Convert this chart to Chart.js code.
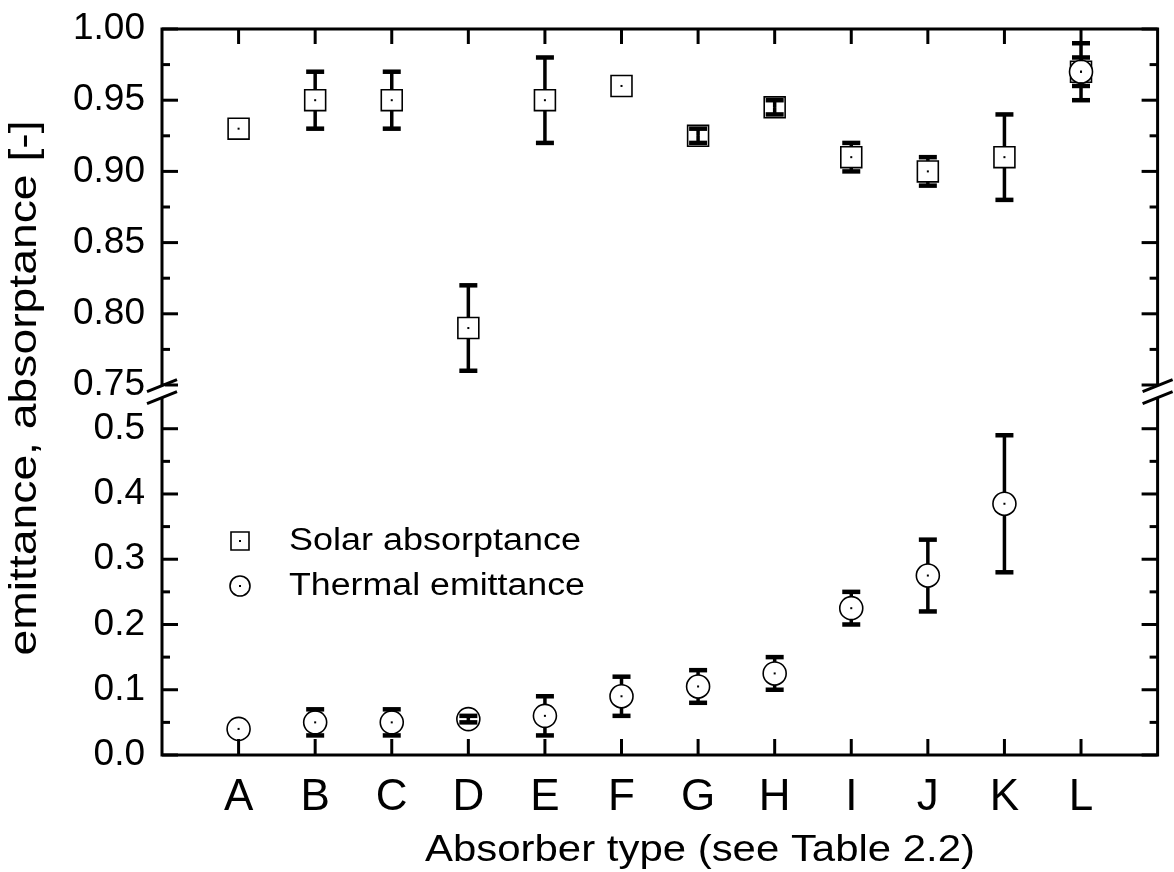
<!DOCTYPE html>
<html>
<head>
<meta charset="utf-8">
<title>Absorber emittance and absorptance</title>
<script src="https://cdn.jsdelivr.net/npm/chart.js@4.4.1/dist/chart.umd.min.js"></script>
<style>
  body { margin: 0; background: #fff; }
  canvas { display: block; }
</style>
</head>
<body>
<canvas id="chart" width="1174" height="872"></canvas>
<script>
// Data
const categories = ['A', 'B', 'C', 'D', 'E', 'F', 'G', 'H', 'I', 'J', 'K', 'L'];
const solarAbsorptance = [0.93, 0.95, 0.95, 0.79, 0.95, 0.96, 0.925, 0.945, 0.91, 0.90, 0.91, 0.97];
const solarError       = [0, 0.02, 0.02, 0.03, 0.03, 0, 0.005, 0.005, 0.01, 0.01, 0.03, 0.02];
const thermalEmittance = [0.04, 0.05, 0.05, 0.055, 0.06, 0.09, 0.105, 0.125, 0.225, 0.275, 0.385, 0.97];
const thermalError     = [0, 0.02, 0.02, 0.005, 0.03, 0.03, 0.025, 0.025, 0.025, 0.055, 0.105, 0.01];

// Axis ticks (broken y axis: lower part 0-0.5, upper part 0.75-1.00)
const lowerTicks = [0.0, 0.1, 0.2, 0.3, 0.4, 0.5];
const lowerMinor = [0.05, 0.15, 0.25, 0.35, 0.45];
const upperTicks = [0.75, 0.80, 0.85, 0.90, 0.95, 1.00];
const upperMinor = [0.775, 0.825, 0.875, 0.925, 0.975];
const BREAK = 0.75; // values at or above go to the upper segment

const FONT = "'Liberation Sans', Arial, sans-serif";

// split a series between the two axis segments
function toPoints(values, errors, upper) {
    return values
        .map((v, i) => ({ x: i + 1, y: v, err: errors[i] }))
        .filter(p => upper ? p.y >= BREAK : p.y < BREAK);
}

function markerSet(label, values, errors, upper, style) {
    return {
        label,
        data: toPoints(values, errors, upper),
        yAxisID: upper ? 'yTop' : 'yBot',
        pointStyle: style,
        pointRadius: style === 'rect' ? 14.8 : 11.5,
        pointHoverRadius: style === 'rect' ? 14.8 : 11.5,
        pointBorderWidth: 1.6,
        pointBorderColor: '#000',
        pointBackgroundColor: '#fff',
        order: style === 'rect' ? 1 : 0
    };
}

const datasets = [
    markerSet('Solar absorptance', solarAbsorptance, solarError, true, 'rect'),
    markerSet('Solar absorptance', solarAbsorptance, solarError, false, 'rect'),
    markerSet('Thermal emittance', thermalEmittance, thermalError, true, 'circle'),
    markerSet('Thermal emittance', thermalEmittance, thermalError, false, 'circle')
];

function line(ctx, x1, y1, x2, y2) {
    ctx.beginPath();
    ctx.moveTo(x1, y1);
    ctx.lineTo(x2, y2);
    ctx.stroke();
}

// draw text squeezed / stretched to a given width
function fitText(ctx, text, x, y, width, size, angle, align) {
    ctx.save();
    ctx.font = `${size}px ${FONT}`;
    const w = ctx.measureText(text).width;
    ctx.translate(x, y);
    ctx.rotate(angle || 0);
    ctx.scale(width / w, 1);
    ctx.textAlign = align || 'center';
    ctx.textBaseline = 'middle';
    ctx.fillStyle = '#000';
    ctx.fillText(text, 0, 0);
    ctx.restore();
}

function drawMarker(ctx, style, x, y) {
    ctx.save();
    ctx.lineWidth = 1.6;
    ctx.strokeStyle = '#000';
    ctx.fillStyle = '#fff';
    ctx.beginPath();
    if (style === 'rect') ctx.rect(x - 9, y - 9, 18, 18);
    else ctx.arc(x, y, 10, 0, Math.PI * 2);
    ctx.fill();
    ctx.stroke();
    ctx.fillStyle = '#000';
    ctx.fillRect(x - 1, y - 1, 2, 2);
    ctx.restore();
}

// error bars, centre dots, frame, ticks, break, legend, titles
const errorBars = {
    id: 'errorBars',
    afterDatasetsDraw(chart) {
        const ctx = chart.ctx;
        ctx.save();
        ctx.strokeStyle = '#000';
        ctx.fillStyle = '#000';
        chart.data.datasets.forEach((ds, di) => {
            const meta = chart.getDatasetMeta(di);
            const scale = chart.scales[ds.yAxisID];
            const half = ds.pointStyle === 'rect' ? 10.5 : 11.5;
            meta.data.forEach((el, i) => {
                const p = ds.data[i];
                ctx.fillRect(el.x - 1, el.y - 1, 2, 2);
                if (!p.err) return;
                const yHi = scale.getPixelForValue(p.y + p.err);
                const yLo = scale.getPixelForValue(p.y - p.err);
                ctx.lineWidth = 3.5;
                line(ctx, el.x, yHi < el.y - half ? el.y - half : el.y, el.x, yHi);
                line(ctx, el.x, yLo > el.y + half ? el.y + half : el.y, el.x, yLo);
                ctx.lineWidth = 4.5;
                line(ctx, el.x - 9, yHi, el.x + 9, yHi);
                line(ctx, el.x - 9, yLo, el.x + 9, yLo);
            });
        });
        ctx.restore();
    },
    afterDraw(chart) {
        const ctx = chart.ctx;
        const a = chart.chartArea;
        const x = chart.scales.x, yT = chart.scales.yTop, yB = chart.scales.yBot;
        ctx.save();
        ctx.strokeStyle = '#000';
        ctx.lineWidth = 3;
        ctx.lineCap = 'butt';
        ctx.strokeRect(a.left, a.top, a.right - a.left, a.bottom - a.top);

        // inward ticks on all four sides
        categories.forEach((c, i) => {
            const px = x.getPixelForValue(i + 1);
            line(ctx, px, a.bottom, px, a.bottom - 16);
            line(ctx, px, a.top, px, a.top + 15);
        });
        const yTicks = (scale, major, minor) => {
            major.forEach(v => {
                const py = scale.getPixelForValue(v);
                line(ctx, a.left, py, a.left + 16, py);
                line(ctx, a.right, py, a.right - 16, py);
            });
            minor.forEach(v => {
                const py = scale.getPixelForValue(v);
                line(ctx, a.left, py, a.left + 8, py);
                line(ctx, a.right, py, a.right - 8, py);
            });
        };
        yTicks(yT, upperTicks, upperMinor);
        yTicks(yB, lowerTicks, lowerMinor);

        // axis break marks
        const yb = (yT.getPixelForValue(0.75) + yB.getPixelForValue(0.55)) / 2 + 1;
        [a.left, a.right].forEach(x0 => {
            ctx.fillStyle = '#fff';
            ctx.fillRect(x0 - 3, yb - 6, 6, 12);
            [-6, 6].forEach(d => line(ctx, x0 - 15, yb + d + 6, x0 + 15, yb + d - 6));
        });

        // legend
        drawMarker(ctx, 'rect', 240, 541);
        drawMarker(ctx, 'circle', 240, 586);
        fitText(ctx, 'Solar absorptance', 289, 541, 292, 31, 0, 'left');
        fitText(ctx, 'Thermal emittance', 289, 586, 296, 31, 0, 'left');

        // axis titles
        fitText(ctx, 'Absorber type (see Table 2.2)', 700, 851, 550, 37);
        fitText(ctx, 'emittance, absorptance [-]', 26, 388, 535, 38, -Math.PI / 2);
        ctx.restore();
    }
};

const tickFont = { family: FONT, size: 37 };

// keep label overflow from pushing the plot area around
function fixY(s) {
    s.width = 162;
    s.paddingTop = 0;
    s.paddingBottom = 0;
}

new Chart(document.getElementById('chart'), {
    type: 'scatter',
    data: { datasets },
    options: {
        responsive: false,
        animation: false,
        devicePixelRatio: 1,
        layout: { padding: { top: 29, right: 16, left: 0, bottom: 0 } },
        plugins: { legend: { display: false }, tooltip: { enabled: false } },
        scales: {
            x: {
                type: 'linear',
                position: 'bottom',
                min: 0,
                max: 13,
                grid: { display: false, drawTicks: false },
                border: { display: false },
                afterBuildTicks: s => { s.ticks = categories.map((c, i) => ({ value: i + 1 })); },
                afterFit: s => { s.height = 117; s.paddingLeft = 0; s.paddingRight = 0; },
                ticks: {
                    autoSkip: false,
                    maxRotation: 0,
                    padding: 16,
                    color: '#000',
                    font: { family: FONT, size: 44 },
                    callback: v => categories[v - 1] || ''
                }
            },
            yBot: {
                type: 'linear',
                position: 'left',
                stack: 'y',
                stackWeight: 370,
                min: 0,
                max: 0.567,
                grid: { display: false, drawTicks: false },
                border: { display: false },
                afterBuildTicks: s => { s.ticks = lowerTicks.map(v => ({ value: v })); },
                afterFit: fixY,
                ticks: { autoSkip: false, padding: 17, color: '#000', font: tickFont, callback: v => v.toFixed(1) }
            },
            yTop: {
                type: 'linear',
                position: 'left',
                stack: 'y',
                stackWeight: 356,
                min: 0.75,
                max: 1.0,
                grid: { display: false, drawTicks: false },
                border: { display: false },
                afterBuildTicks: s => { s.ticks = upperTicks.map(v => ({ value: v })); },
                afterFit: fixY,
                ticks: { autoSkip: false, padding: 17, color: '#000', font: tickFont, callback: v => v.toFixed(2) }
            }
        }
    },
    plugins: [errorBars]
});
</script>
</body>
</html>
